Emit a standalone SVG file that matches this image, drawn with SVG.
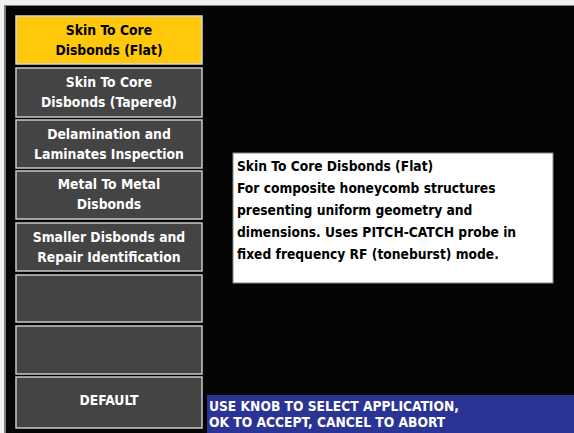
<svg xmlns="http://www.w3.org/2000/svg" width="574" height="433" viewBox="0 0 574 433">
<style>
.btn{fill:#444444;stroke:#c8c8c8;stroke-width:1.5}
.sel{fill:#ffc80a;stroke:#d8d8d8;stroke-width:1.5}
.bt{font-family:"DejaVu Sans Condensed","DejaVu Sans",sans-serif;font-weight:bold;font-size:13.8px;fill:#ffffff;text-anchor:middle}
.bk{fill:#000000}
.info{font-family:"DejaVu Sans Condensed","DejaVu Sans",sans-serif;font-weight:bold;font-size:13.7px;fill:#000000}
.msg{font-family:"DejaVu Sans Condensed","DejaVu Sans",sans-serif;font-weight:bold;font-size:13.7px;fill:#ffffff}
</style>
<rect x="0" y="0" width="574" height="433" fill="#f0f0f0"/>
<rect x="4" y="5" width="570" height="428" fill="#808080"/>
<rect x="6" y="6" width="568" height="427" fill="#050505"/>
<g id="btn1"><rect class="sel" x="16" y="16" width="186" height="48"/><text class="bt bk" x="109" y="35">Skin To Core</text><text class="bt bk" x="109" y="55">Disbonds (Flat)</text></g>
<g id="btn2"><rect class="btn" x="16" y="68" width="186" height="49"/><text class="bt" x="109" y="87">Skin To Core</text><text class="bt" x="109" y="107">Disbonds (Tapered)</text></g>
<g id="btn3"><rect class="btn" x="16" y="120" width="186" height="48"/><text class="bt" x="109" y="139">Delamination and</text><text class="bt" x="109" y="159">Laminates Inspection</text></g>
<g id="btn4"><rect class="btn" x="16" y="171" width="186" height="48"/><text class="bt" x="109" y="189">Metal To Metal</text><text class="bt" x="109" y="209">Disbonds</text></g>
<g id="btn5"><rect class="btn" x="16" y="223" width="186" height="48"/><text class="bt" x="109" y="242">Smaller Disbonds and</text><text class="bt" x="109" y="262">Repair Identification</text></g>
<g id="btn6"><rect class="btn" x="16" y="275" width="186" height="47"/></g>
<g id="btn7"><rect class="btn" x="16" y="326" width="186" height="48"/></g>
<g id="btn8"><rect class="btn" x="16" y="377" width="186" height="51"/><text class="bt" x="109" y="405">DEFAULT</text></g>
<g id="info"><rect x="233" y="153" width="320" height="130" fill="#ffffff" stroke="#888888" stroke-width="1"/>
<text class="info" x="237" y="171">Skin To Core Disbonds (Flat)</text>
<text class="info" x="237" y="193">For composite honeycomb structures</text>
<text class="info" x="237" y="215">presenting uniform geometry and</text>
<text class="info" x="237" y="237">dimensions. Uses PITCH-CATCH probe in</text>
<text class="info" x="237" y="259">fixed frequency RF (toneburst) mode.</text></g>
<g id="message"><rect x="207" y="395" width="367" height="38" fill="#2b3494"/>
<text class="msg" x="209" y="411">USE KNOB TO SELECT APPLICATION,</text>
<text class="msg" x="209" y="427">OK TO ACCEPT, CANCEL TO ABORT</text></g>
</svg>
